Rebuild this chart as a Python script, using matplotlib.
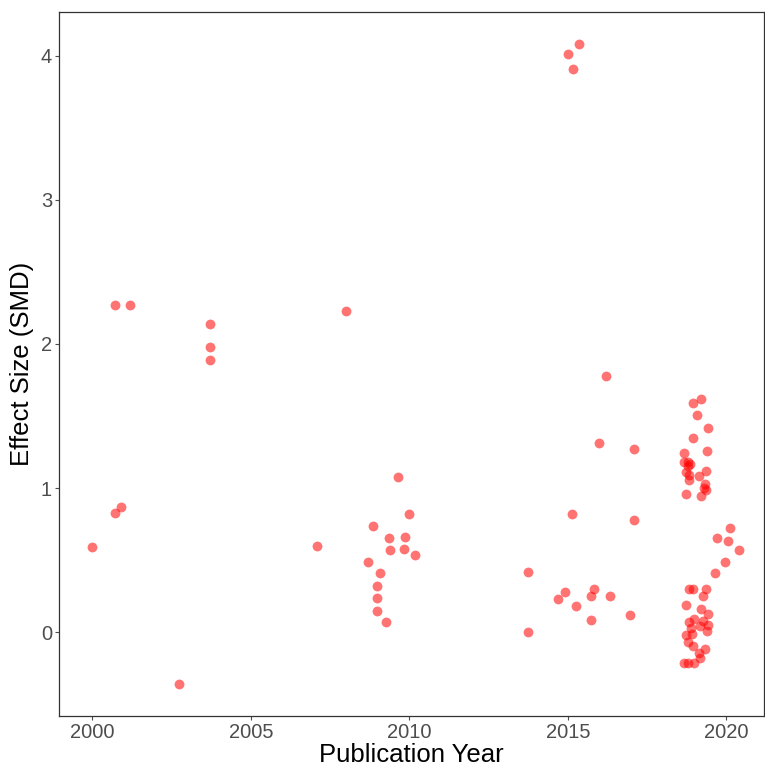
import matplotlib
matplotlib.use("Agg")
import matplotlib.pyplot as plt

plt.rcParams['font.family'] = ['Liberation Sans', 'DejaVu Sans']

year = [
    2000.0, 2000.7, 2001.17, 2000.7, 2000.9, 2002.74,
    2003.7, 2003.7, 2003.7, 2007.1, 2008.0,
    2009.64, 2009.98, 2008.84, 2009.35, 2009.86, 2009.4, 2009.82, 2010.17,
    2008.70, 2009.06, 2008.97, 2008.97, 2008.97, 2009.27,
    2015.0, 2015.15, 2015.36,
    2016.2, 2015.97, 2017.08, 2015.12, 2017.08, 2013.73, 2014.92, 2014.7,
    2015.83, 2015.73, 2016.32, 2015.25, 2015.73, 2016.95, 2013.73,
    2019.21, 2018.96, 2019.09, 2019.43, 2018.94, 2019.39, 2018.67,
    2018.67, 2018.80, 2018.86, 2018.78,
    2018.72, 2019.37, 2018.84, 2019.13, 2018.84,
    2019.34, 2019.30, 2019.37, 2018.72, 2019.21,
    2020.13, 2019.71, 2020.06, 2020.40, 2019.95, 2019.66,
    2018.84, 2018.94, 2019.37, 2019.26, 2018.72, 2019.21, 2019.42,
    2018.97, 2018.81, 2019.26, 2019.18, 2019.44, 2018.89, 2019.39,
    2018.92, 2018.74, 2018.78, 2018.96, 2019.34, 2019.13, 2019.18,
    2018.67, 2018.78, 2018.97,
]
smd = [
    0.59, 2.27, 2.27, 0.83, 0.87, -0.36,
    2.14, 1.98, 1.89, 0.60, 2.23,
    1.08, 0.82, 0.74, 0.655, 0.66, 0.57, 0.575, 0.535,
    0.49, 0.41, 0.32, 0.24, 0.15, 0.07,
    4.01, 3.91, 4.08,
    1.78, 1.31, 1.27, 0.82, 0.78, 0.42, 0.28, 0.23,
    0.30, 0.25, 0.25, 0.18, 0.085, 0.12, 0.0,
    1.62, 1.59, 1.51, 1.42, 1.345, 1.26, 1.245,
    1.18, 1.18, 1.17, 1.155,
    1.11, 1.12, 1.09, 1.085, 1.055,
    1.03, 1.00, 0.99, 0.96, 0.945,
    0.725, 0.655, 0.635, 0.57, 0.49, 0.41,
    0.30, 0.30, 0.30, 0.25, 0.19, 0.16, 0.125,
    0.09, 0.07, 0.08, 0.045, 0.05, 0.03, 0.01,
    -0.01, -0.02, -0.07, -0.095, -0.115, -0.145, -0.175,
    -0.21, -0.21, -0.21,
]

xticks = [2000, 2005, 2010, 2015, 2020]
yticks = [0, 1, 2, 3, 4]

fig = plt.figure(figsize=(7.65, 7.69), dpi=100)
ax = fig.add_axes([0.077, 0.069, 0.922, 0.915])
ax.scatter(year, smd, s=50, color='red', alpha=0.55, linewidths=0, zorder=3)

ax.set_xlim(1998.94, 2021.2)
ax.set_ylim(-0.58, 4.30)
ax.set_xticks(xticks)
ax.set_yticks(yticks)
ax.tick_params(axis='both', labelsize=14.5, colors='#4d4d4d', length=3, width=0.8,
               direction='out', pad=2)
for sp in ax.spines.values():
    sp.set_color('#333333')
    sp.set_linewidth(0.9)
ax.set_xlabel('Publication Year', fontsize=18.5, labelpad=1)
ax.set_ylabel('Effect Size (SMD)', fontsize=18.5, labelpad=5)

fig.savefig('out.png', dpi=100)
